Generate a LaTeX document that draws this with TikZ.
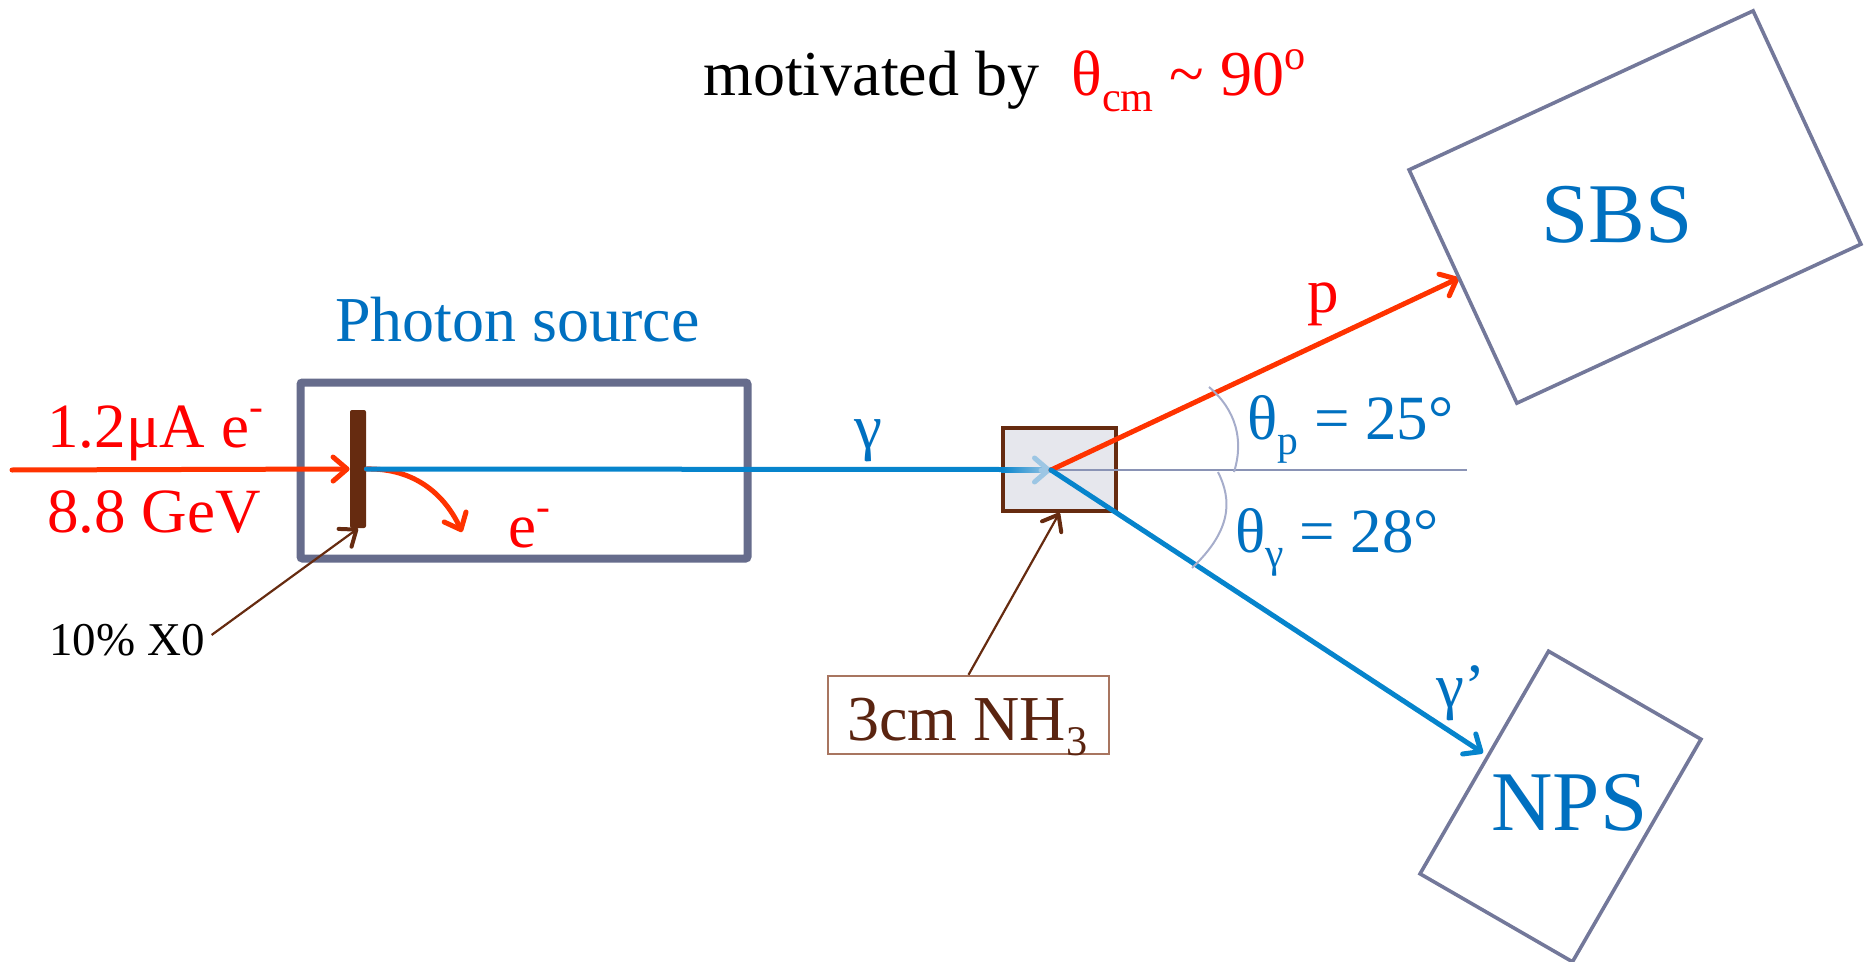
\documentclass[tikz,border=0pt]{standalone}
\usepackage{fontspec}
\usepackage{graphicx}
\setmainfont{Liberation Serif}
\usetikzlibrary{arrows.meta,calc}
\definecolor{BeamRed}{HTML}{FF3300}
\definecolor{LabelRed}{HTML}{FF0000}
\definecolor{BeamBlue}{HTML}{0684CC}
\definecolor{BeamLight}{HTML}{9CC6E4}
\definecolor{LabelBlue}{HTML}{0070C0}
\definecolor{FrameGray}{HTML}{666C8C}
\definecolor{DetGray}{HTML}{73789A}
\definecolor{ArcGray}{HTML}{A6ADCB}
\definecolor{AxisGray}{HTML}{8A93B5}
\definecolor{PlateBrown}{HTML}{662B10}
\definecolor{TagBrown}{HTML}{A87560}
\definecolor{TagText}{HTML}{5A2410}
\newcommand{\lowtxt}[1]{\raisebox{-0.24em}{\scalebox{0.66}{#1}}}
\newcommand{\hightxt}[1]{\raisebox{0.42em}{\scalebox{0.66}{#1}}}
\begin{document}
\begin{tikzpicture}[
      x=0.5pt, y=-0.5pt,
      every node/.style={inner sep=0pt, font=\fontsize{31.5}{36}\selectfont},
      txt/.style={anchor=base west},
      det/.style={draw=DetGray, line width=1.8pt, minimum height=128.5pt},
      beam/.style={line width=2.5pt, line cap=round},
      tip/.style={-{Straight Barb[length=7pt,width=12pt,round]}},
      fine/.style={line width=1.1pt, PlateBrown},
      finetip/.style={-{Straight Barb[length=7pt,width=11pt,round,line width=2pt]}},
      arc/.style={ArcGray, line width=1pt},
    ]
    \useasboundingbox (0,0) rectangle (1872,962);

    % TITLE
    \node[txt, font=\fontsize{32}{36}\selectfont] (title) at (703,96)
    {motivated by\hspace{0.5em}\textcolor{LabelRed}{θ\lowtxt{cm} \textasciitilde{} 90\hightxt{o}}};

    % PHOTON SOURCE
    \node[draw=FrameGray, line width=4pt, rounded corners=1pt, minimum width=223.5pt, minimum height=88pt] (source) at (524,470.5) {};
    \node[txt, text=LabelBlue, font=\fontsize{32}{36}\selectfont] (sourcelbl) at (335,342) {Photon source};
    \node[fill=PlateBrown, rounded corners=1pt, minimum width=8pt, minimum height=59pt] (plate) at (358,469) {};
    \coordinate (beamin) at (12,470);
    \coordinate (ecurve) at (462,532);
    \node[txt, text=LabelRed] (current) at (47,447) {1.2μA e\hightxt{-}};
    \node[txt, text=LabelRed] (energy) at (47,532) {8.8 GeV};
    \node[txt, text=LabelRed] (eout) at (508,547) {e\hightxt{-}};
    \node[txt, font=\fontsize{23.5}{28}\selectfont] (radlen) at (49,655) {10\% X0};
    \draw[beam,BeamRed,tip] (beamin) -- (plate.west);
    \draw[beam,BeamRed,tip] (plate.east) .. controls (415,468) and (445,495) .. (ecurve);
    \draw[fine,finetip,shorten <=4pt] (radlen.east) -- (plate.south);

    % TARGET
    \coordinate (vtx) at (1051,470);
    \coordinate (ptip) at (1459,278);
    \coordinate (gtip) at (1483,753);
    \node[draw=PlateBrown, line width=1.8pt, left color=DetGray!18, middle color=DetGray!40, right color=DetGray!18,
      minimum width=56.5pt, minimum height=41.5pt] (target) at (1059.5,469.5) {};
    \node[draw=TagBrown, line width=1.2pt, fill=white, minimum width=140.5pt, minimum height=39pt] (tag) at (968.5,715) {};
    \node[txt, text=TagText, font=\fontsize{32}{36}\selectfont] (taglbl) at (847,740) {3cm NH\lowtxt{3}};
    \draw[fine,finetip] (tag.north) -- (target.south);

    % BEAMS
    \draw[beam,BeamBlue] (plate.east) -- (target.west);
    \shade[left color=BeamBlue, right color=BeamLight] ($(target.west)+(0,-2.5)$) rectangle ($(vtx)+(0,2.5)$);
    \draw[beam,BeamLight,tip] ($(vtx)+(-10,0)$) -- (vtx);
    \draw[AxisGray, line width=0.8pt] (vtx) -- (1467,470);
    \draw[beam,BeamRed,tip] (vtx) -- (ptip);
    \draw[beam,BeamBlue,tip] (vtx) -- (gtip);
    \node[txt, text=LabelBlue] (gamma) at (854,448) {γ};
    \node[txt, text=LabelRed] (plbl) at (1307,313) {p};
    \node[txt, text=LabelBlue] (gplbl) at (1436,707) {γ’};

    % ANGLES
    \coordinate (a1) at (1209,387);
    \coordinate (a2) at (1234,472);
    \coordinate (a3) at (1218,472);
    \coordinate (a4) at (1192,568);
    \draw[arc] (a1) .. controls (1236,410) and (1244,440) .. (a2);
    \draw[arc] (a3) .. controls (1232,500) and (1232,530) .. (a4);
    \node[txt, text=LabelBlue] (thp) at (1247,439) {θ\lowtxt{p} = 25°};
    \node[txt, text=LabelBlue] (thg) at (1235,552) {θ\lowtxt{γ} = 28°};

    % DETECTORS
    \node[det, minimum width=189.5pt, rotate=24.8] (sbs) at (1635,207) {};
    \node[det, minimum width=88pt, rotate=-30] (nps) at (1560.5,806.5) {};
    \node[txt, text=LabelBlue, font=\fontsize{42.5}{46}\selectfont] (sbslbl) at (1541,243) {SBS};
    \node[txt, text=LabelBlue, font=\fontsize{42.5}{46}\selectfont] (npslbl) at (1491,830) {NPS};
  \end{tikzpicture}
\end{document}
